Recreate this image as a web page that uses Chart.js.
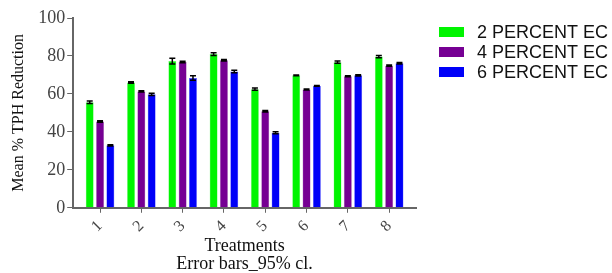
<!DOCTYPE html>
<html>
<head>
<meta charset="utf-8">
<script src="https://cdn.jsdelivr.net/npm/chart.js@4"></script>
<style>
    html, body { margin: 0; padding: 0; background: #fff; }
    #wrap { width: 612px; height: 273px; }
</style>
</head>
<body>
<div id="wrap"><canvas id="myChart" width="612" height="273"></canvas></div>
<script>
const labels = ['1', '2', '3', '4', '5', '6', '7', '8'];

const serie2 = [55.6, 66.0, 77.3, 81.0, 62.5, 69.8, 76.7, 79.7];
const serie4 = [45.5, 61.3, 76.8, 77.7, 50.8, 62.3, 69.3, 74.9];
const serie6 = [32.9, 59.8, 68.4, 71.8, 39.5, 64.2, 69.8, 76.2];

// meia largura das barras de erro (IC 95%)
const erro2 = [0.6, 0.4, 1.5, 0.7, 0.6, 0.2, 0.6, 0.6];
const erro4 = [0.4, 0.3, 0.4, 0.4, 0.4, 0.3, 0.3, 0.3];
const erro6 = [0.3, 0.6, 1.2, 0.7, 0.5, 0.2, 0.3, 0.4];

const yTicks = [0, 20, 40, 60, 80, 100];

const serif = 'Liberation Serif';

const errorBars = {
    id: 'errorBars',
    afterDatasetsDraw(chart) {
        const ctx = chart.ctx;
        const y = chart.scales.y;
        ctx.save();
        ctx.strokeStyle = '#000';
        ctx.lineWidth = 1.5;
        chart.data.datasets.forEach((ds, i) => {
            const meta = chart.getDatasetMeta(i);
            meta.data.forEach((bar, j) => {
                const v = ds.data[j];
                const e = ds.erros[j];
                const top = y.getPixelForValue(v + e);
                const bot = y.getPixelForValue(v - e);
                const x = bar.x;
                ctx.beginPath();
                ctx.moveTo(x, top);
                ctx.lineTo(x, bot);
                ctx.moveTo(x - 3, top);
                ctx.lineTo(x + 3, top);
                ctx.moveTo(x - 3, bot);
                ctx.lineTo(x + 3, bot);
                ctx.stroke();
            });
        });
        ctx.restore();
    }
};

// legenda desenhada a mão, do lado direito
const legendaLateral = {
    id: 'legendaLateral',
    afterDraw(chart) {
        const ctx = chart.ctx;
        ctx.save();
        ctx.font = '18px "Liberation Sans"';
        ctx.textBaseline = 'middle';
        chart.data.datasets.forEach((ds, i) => {
            const yc = 32 + i * 20;
            ctx.fillStyle = ds.backgroundColor;
            ctx.fillRect(439, yc - 5, 25, 10);
            ctx.fillStyle = '#111';
            ctx.fillText(ds.label, 477, yc + 1);
        });
        ctx.restore();
    }
};

const data = {
    labels: labels,
    datasets: [
        { label: '2 PERCENT EC', data: serie2, erros: erro2, backgroundColor: '#00F400', borderColor: '#7CF57C', borderWidth: 0.5 },
        { label: '4 PERCENT EC', data: serie4, erros: erro4, backgroundColor: '#760093', borderColor: '#A060B0', borderWidth: 0.5 },
        { label: '6 PERCENT EC', data: serie6, erros: erro6, backgroundColor: '#0000F8', borderColor: '#6060FF', borderWidth: 0.5 }
    ]
};

const config = {
    type: 'bar',
    data: data,
    options: {
        responsive: false,
        animation: false,
        categoryPercentage: 0.75,
        barPercentage: 0.77,
        layout: { padding: { top: 18, left: 9, right: 196, bottom: 0 } },
        scales: {
            x: {
                // um pouco de folga extra nas pontas do eixo x
                afterBuildTicks: axis => {
                    axis._startValue -= 0.15;
                    axis._valueRange += 0.3;
                },
                grid: { display: true, drawOnChartArea: false, offset: false, tickLength: 5, color: '#666' },
                border: { color: '#666', width: 2 },
                ticks: {
                    minRotation: 45,
                    maxRotation: 45,
                    color: '#444',
                    padding: 4,
                    font: { family: serif, size: 16 }
                },
                title: {
                    display: true,
                    text: ['Treatments', 'Error bars_95% cl.'],
                    color: '#111',
                    font: { family: serif, size: 18, lineHeight: 1.0 },
                    padding: { top: -3, bottom: 0 }
                }
            },
            y: {
                min: 0,
                max: 100,
                afterBuildTicks: axis => {
                    axis.ticks = yTicks.map(v => ({ value: v }));
                },
                grid: { display: true, drawOnChartArea: false, tickLength: 6, color: '#666' },
                border: { color: '#666', width: 2 },
                ticks: {
                    color: '#444',
                    font: { family: serif, size: 18 },
                    padding: 2
                },
                title: {
                    display: true,
                    text: 'Mean % TPH Reduction',
                    color: '#111',
                    font: { family: serif, size: 16 },
                    padding: { top: 0, bottom: 8 }
                }
            }
        },
        plugins: {
            legend: { display: false },
            tooltip: { enabled: false }
        }
    },
    plugins: [errorBars, legendaLateral]
};

const myChart = new Chart(
    document.getElementById('myChart'),
    config
);
</script>
</body>
</html>
